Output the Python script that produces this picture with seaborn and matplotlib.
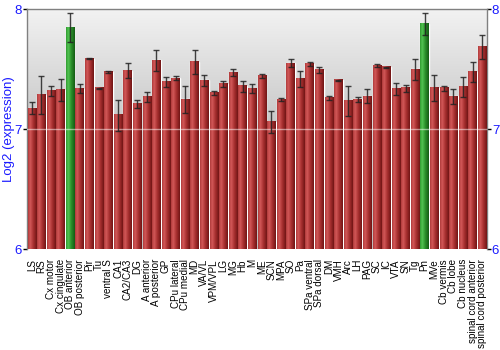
import numpy as np
import pandas as pd
import matplotlib
matplotlib.use("Agg")
import matplotlib.pyplot as plt
from matplotlib.colors import LinearSegmentedColormap
import seaborn as sns

categories = ["LS", "RS", "Cx motor", "Cx cingulate", "OB anterior", "OB posterior", "Pir", "Tu",
              "ventral S", "CA1", "CA2/CA3", "DG", "A anterior", "A posterior", "GP", "CPu lateral",
              "CPu medial", "MD", "VA/VL", "VPM/VPL", "LG", "MG", "Hb", "M", "ME", "SCN", "MPA", "SO",
              "Pa", "SPa ventral", "SPa dorsal", "DM", "VMH", "Arc", "LH", "PAG", "SC", "IC", "VTA",
              "SN", "Tg", "Pn", "MVe", "Cb vermis", "Cb lobe", "Cb nucleus", "spinal cord anterior",
              "spinal cord posterior"]
values = [7.175, 7.286, 7.32, 7.327, 7.85, 7.34, 7.59, 7.344,
          7.478, 7.117, 7.49, 7.21, 7.267, 7.575, 7.394, 7.425,
          7.25, 7.564, 7.408, 7.305, 7.378, 7.472, 7.36, 7.34, 7.444, 7.06, 7.25, 7.55,
          7.42, 7.544, 7.497, 7.26, 7.41, 7.236, 7.25, 7.275, 7.533, 7.517, 7.336,
          7.342, 7.5, 7.878, 7.347, 7.342, 7.275, 7.355, 7.48, 7.69]
errors = [0.05, 0.16, 0.045, 0.09, 0.12, 0.04, 0.005, 0.004,
          0.005, 0.127, 0.06, 0.035, 0.04, 0.09, 0.045, 0.017,
          0.114, 0.1, 0.046, 0.018, 0.028, 0.028, 0.046, 0.04, 0.02, 0.09, 0.013, 0.033,
          0.067, 0.017, 0.025, 0.014, 0.005, 0.128, 0.02, 0.058, 0.014, 0.005, 0.053,
          0.03, 0.086, 0.088, 0.107, 0.02, 0.06, 0.083, 0.083, 0.1]
highlighted = ["OB anterior", "Pn"]
yticks = [6, 7, 8]

df = pd.DataFrame({"region": categories, "value": values, "err": errors})
df["group"] = np.where(df["region"].isin(highlighted), "hi", "lo")

sns.set_theme(style="white")
plt.rcParams["font.family"] = ["Liberation Sans", "DejaVu Sans"]

fig = plt.figure(figsize=(5, 3.5), dpi=100)
ax = fig.add_axes([0.054, 0.2877, 0.92, 0.6857])

sns.barplot(data=df, x="region", y="value", hue="group", dodge=False,
            palette={"hi": "#2f9a2f", "lo": "#b03a3a"}, width=0.88, legend=False, ax=ax,
            errorbar=None, zorder=2)

ymin, ymax = 6, 8
ax.set_ylim(ymin, ymax)
ax.set_xlim(-0.5, len(categories) - 0.5)
xlim = ax.get_xlim()

# background gradient
bg = LinearSegmentedColormap.from_list("bg", ["#9c9c9c", "#c6c6c6", "#f2f2f2"])
grad = np.linspace(0, 1, 256).reshape(-1, 1)
ax.imshow(grad, cmap=bg, origin="lower", aspect="auto",
          extent=[xlim[0], xlim[1], ymin, ymax], zorder=0)

red_cm = LinearSegmentedColormap.from_list("r", [(0, "#b03a3a"), (0.25, "#d25858"), (0.6, "#a83030"), (1, "#701515")])
green_cm = LinearSegmentedColormap.from_list("g", [(0, "#2f9a2f"), (0.25, "#52c452"), (0.6, "#2a8f2a"), (1, "#145c14")])
hgrad = np.linspace(0, 1, 64).reshape(1, -1)
for p in ax.patches:
    x0, w, h = p.get_x(), p.get_width(), p.get_height()
    idx = int(round(x0 + w / 2))
    cm = green_cm if categories[idx] in highlighted else red_cm
    top = min(h, ymax)
    ax.imshow(hgrad, cmap=cm, aspect="auto", extent=[x0, x0 + w, ymin, top], zorder=3)

ax.errorbar(np.arange(len(categories)), df["value"], yerr=df["err"], fmt="none",
            ecolor="#222222", elinewidth=1, capsize=2.5, capthick=1, alpha=0.85, zorder=5)

ax.axhline(7, color="white", lw=1, alpha=0.5, zorder=4)

ax.set_xlim(xlim)
ax.set_ylim(ymin, ymax)
ax.set_yticks(yticks)
ax.set_yticklabels([str(t) for t in yticks])
ax.tick_params(axis="y", left=True, right=True, labelleft=True, labelright=True,
               length=3, width=1, color="black", labelcolor="#1a1aff", labelsize=9.5, pad=0.5)
ax.tick_params(axis="x", bottom=False, labelsize=7.1, pad=1, labelrotation=90, labelcolor="black")
ax.set_xlabel("")
ax.set_ylabel("Log2 (expression)", color="#1a1aff", fontsize=9.5, labelpad=0)
for s in ax.spines.values():
    s.set_color("#808080")
    s.set_linewidth(1)
ax.spines["bottom"].set_visible(False)

fig.savefig("out.png", dpi=100)
